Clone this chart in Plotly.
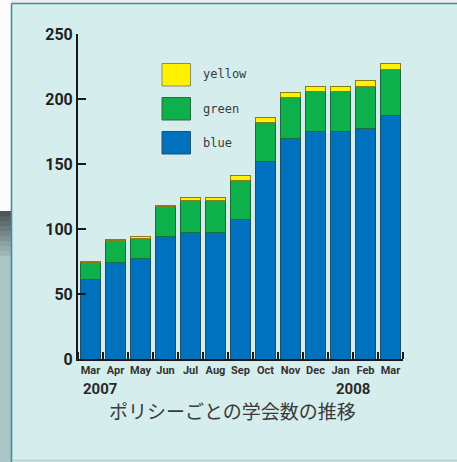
import plotly.graph_objects as go

months = ["Mar", "Apr", "May", "Jun", "Jul", "Aug", "Sep", "Oct", "Nov", "Dec", "Jan", "Feb", "Mar"]
blue = [61, 74, 77, 94, 97, 97, 107, 152, 170, 175, 175, 177, 187]
green = [13, 17, 16, 23, 25, 25, 30, 30, 31, 31, 31, 33, 36]
yellow = [1, 1, 1, 1, 2, 2, 4, 4, 4, 4, 4, 4, 4]
series_names = ["yellow", "green", "blue"]
title_text = "ポリシーごとの学会数の推移"
year_labels = ["2007", "2008"]

W, H = 457, 462
L, R, T, B = 78, 54, 34, 103
PW, PH = W - L - R, H - T - B


def px(x):
    return (x - L) / PW


def py(y):
    return (H - B - y) / PH


xs = list(range(len(months)))
panel = "#d6eded"

fig = go.Figure()
fig.add_trace(go.Bar(x=xs, y=blue, name="blue", marker=dict(color="#0071bc", line=dict(color="#1c4f6a", width=1))))
fig.add_trace(go.Bar(x=xs, y=green, name="green", marker=dict(color="#0db04b", line=dict(color="#176b3c", width=1))))
fig.add_trace(go.Bar(x=xs, y=yellow, name="yellow", marker=dict(color="#fff200", line=dict(color="#8a7c14", width=1))))

shapes = []
# top light band
shapes.append(dict(type="rect", xref="paper", yref="paper", x0=px(0), x1=px(W), y0=py(0), y1=py(3),
                   fillcolor="#ececec", line=dict(width=0), layer="below"))
# left strip white
shapes.append(dict(type="rect", xref="paper", yref="paper", x0=px(0), x1=px(11), y0=py(0), y1=py(211),
                   fillcolor="#fbfbfb", line=dict(width=0), layer="below"))
# gradient
c0 = (78, 86, 90)
c1 = (169, 197, 198)
n = 10
for i in range(n):
    t = i / (n - 1)
    c = tuple(int(c0[k] + (c1[k] - c0[k]) * t) for k in range(3))
    shapes.append(dict(type="rect", xref="paper", yref="paper", x0=px(0), x1=px(11),
                       y0=py(211 + 5 * i), y1=py(211 + 5 * (i + 1)),
                       fillcolor="rgb(%d,%d,%d)" % c, line=dict(width=0), layer="below"))
shapes.append(dict(type="rect", xref="paper", yref="paper", x0=px(0), x1=px(11), y0=py(261), y1=py(H),
                   fillcolor="rgb(169,197,198)", line=dict(width=0), layer="below"))
# panel border
shapes.append(dict(type="line", xref="paper", yref="paper", x0=px(11.5), x1=px(11.5), y0=py(3.5), y1=py(H),
                   line=dict(color="#3f8fa4", width=1.6), layer="below"))
shapes.append(dict(type="line", xref="paper", yref="paper", x0=px(11.5), x1=px(W), y0=py(3.5), y1=py(3.5),
                   line=dict(color="#3f8fa4", width=1.6), layer="below"))
shapes.append(dict(type="line", xref="paper", yref="paper", x0=px(12), x1=px(W), y0=py(460.5), y1=py(460.5),
                   line=dict(color="#b4cccc", width=1.5), layer="below"))

# legend swatches
legend_colors = {"yellow": ("#fff200", "#8a8a6a"), "green": ("#0db04b", "#2a6a45"), "blue": ("#0071bc", "#24506a")}
annotations = []
for i, name in enumerate(series_names):
    top = 63.5 + 34 * i
    fc, lc = legend_colors[name]
    shapes.append(dict(type="rect", xref="paper", yref="paper", x0=px(162), x1=px(190.5), y0=py(top + 22.5), y1=py(top),
                       fillcolor=fc, line=dict(color=lc, width=1)))
    annotations.append(dict(xref="paper", yref="paper", x=px(201), y=py(top + 11), text=name, showarrow=False,
                            xanchor="left", yanchor="middle",
                            font=dict(family="DejaVu Sans Mono", size=12, color="#3a3a3a")))

annotations.append(dict(xref="paper", yref="paper", x=px(99.5), y=py(389), text=year_labels[0], showarrow=False,
                        xanchor="center", yanchor="middle",
                        font=dict(family="Roboto", size=15, color="#2a2a2a", weight="bold")))
annotations.append(dict(xref="paper", yref="paper", x=px(353), y=py(389), text=year_labels[1], showarrow=False,
                        xanchor="center", yanchor="middle",
                        font=dict(family="Roboto", size=15, color="#2a2a2a", weight="bold")))
annotations.append(dict(xref="paper", yref="paper", x=px(232), y=py(410.5), text=title_text, showarrow=False,
                        xanchor="center", yanchor="middle",
                        font=dict(family="Noto Sans CJK JP", size=19, color="#3a3a3a")))

fig.update_layout(
    width=W, height=H,
    margin=dict(l=L, r=R, t=T, b=B, pad=0),
    paper_bgcolor=panel, plot_bgcolor=panel,
    barmode="stack", bargap=0.17,
    showlegend=False,
    shapes=shapes, annotations=annotations,
    xaxis=dict(range=[-0.5, len(months) - 0.5], tickmode="array", tickvals=xs, ticktext=months,
               ticks="", showgrid=False, zeroline=False, showline=True, linecolor="#1a1a1a", linewidth=2,
               tickfont=dict(family="Roboto", size=11, color="#333333", weight="bold"),
               minor=dict(tickmode="linear", tick0=0.5, dtick=1, ticks="inside", ticklen=7, tickwidth=2,
                          tickcolor="#1a1a1a", showgrid=False),
               fixedrange=True),
    yaxis=dict(range=[0, 250], tickmode="array", tickvals=[0, 50, 100, 150, 200, 250],
               ticks="inside", ticklen=8, tickwidth=2, tickcolor="#1a1a1a",
               showgrid=False, zeroline=False, showline=True, linecolor="#1a1a1a", linewidth=2,
               tickfont=dict(family="Roboto", size=16, color="#222222", weight="bold"),
               fixedrange=True),
)

fig.write_html("out.html", config={"displayModeBar": False},
               post_script="document.body.style.margin='0';document.body.style.overflow='hidden';")
